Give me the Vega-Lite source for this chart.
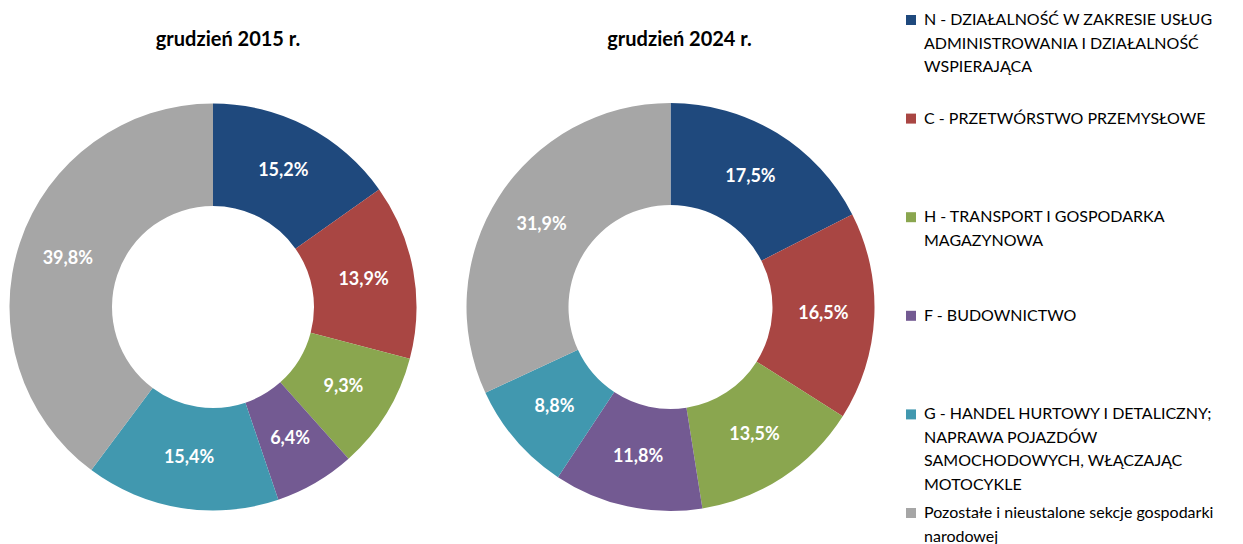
{
  "$schema": "https://vega.github.io/schema/vega-lite/v6.json",
  "padding": {"top": 12, "left": 0, "right": 0, "bottom": 0},
  "background": "white",
  "config": {
    "view": {"stroke": null},
    "font": "Lato",
    "concat": {"spacing": 40},
    "style": {"guide-label": {"lineHeight": 23.5}},
    "locale": {"number": {"decimal": ",", "thousands": " ", "grouping": [3], "currency": ["", " zł"]}}
  },
  "datasets": {
    "d": [
      {"rok": "2015", "lp": 1, "sekcja": "\u00a0N - DZIAŁALNOŚĆ W ZAKRESIE USŁUG|ADMINISTROWANIA I DZIAŁALNOŚĆ|WSPIERAJĄCA", "udzial": 0.152},
      {"rok": "2015", "lp": 2, "sekcja": "\u00a0C - PRZETWÓRSTWO PRZEMYSŁOWE", "udzial": 0.139},
      {"rok": "2015", "lp": 3, "sekcja": "\u00a0H - TRANSPORT I GOSPODARKA|MAGAZYNOWA", "udzial": 0.093},
      {"rok": "2015", "lp": 4, "sekcja": "\u00a0F - BUDOWNICTWO", "udzial": 0.064},
      {"rok": "2015", "lp": 5, "sekcja": "\u00a0G - HANDEL HURTOWY I DETALICZNY;|NAPRAWA POJAZDÓW|SAMOCHODOWYCH, WŁĄCZAJĄC|MOTOCYKLE", "udzial": 0.154},
      {"rok": "2015", "lp": 6, "sekcja": "Pozostałe i nieustalone sekcje gospodarki|narodowej", "udzial": 0.398},
      {"rok": "2024", "lp": 1, "sekcja": "\u00a0N - DZIAŁALNOŚĆ W ZAKRESIE USŁUG|ADMINISTROWANIA I DZIAŁALNOŚĆ|WSPIERAJĄCA", "udzial": 0.175},
      {"rok": "2024", "lp": 2, "sekcja": "\u00a0C - PRZETWÓRSTWO PRZEMYSŁOWE", "udzial": 0.165},
      {"rok": "2024", "lp": 3, "sekcja": "\u00a0H - TRANSPORT I GOSPODARKA|MAGAZYNOWA", "udzial": 0.135},
      {"rok": "2024", "lp": 4, "sekcja": "\u00a0F - BUDOWNICTWO", "udzial": 0.118},
      {"rok": "2024", "lp": 5, "sekcja": "\u00a0G - HANDEL HURTOWY I DETALICZNY;|NAPRAWA POJAZDÓW|SAMOCHODOWYCH, WŁĄCZAJĄC|MOTOCYKLE", "udzial": 0.088},
      {"rok": "2024", "lp": 6, "sekcja": "Pozostałe i nieustalone sekcje gospodarki|narodowej", "udzial": 0.319}
    ]
  },
  "resolve": {"scale": {"color": "shared"}},
  "hconcat": [
    {
      "title": {"text": "grudzień 2015 r.", "fontSize": 20, "fontWeight": "bold", "font": "Lato", "color": "#000000", "offset": 53, "dx": 15, "anchor": "middle"},
      "width": 426,
      "height": 408,
      "data": {"name": "d"},
      "transform": [{"filter": "datum.rok == '2015'"}],
      "encoding": {
        "theta": {"field": "udzial", "type": "quantitative", "stack": true},
        "order": {"field": "lp", "type": "quantitative"}
      },
      "layer": [
        {
          "mark": {"type": "arc", "innerRadius": 101, "outerRadius": 203.5},
          "encoding": {
            "color": {
              "field": "sekcja", "type": "nominal",
              "sort": {"field": "lp"},
              "scale": {"range": ["#1F497D", "#A94643", "#8AA64F", "#735A92", "#4198AF", "#A6A6A6"]},
              "legend": {
                "orient": "none", "legendX": 903, "legendY": -91,
                "title": null, "labelExpr": "split(datum.label, '|')",
                "symbolType": "square", "symbolSize": 100, "symbolStrokeWidth": 0,
                "labelFont": "Lato", "labelFontSize": 16, "labelColor": "#000000",
                "labelLimit": 400, "labelOffset": 5, "labelBaseline": "middle",
                "gridAlign": "all", "rowPadding": 11.6, "padding": 0
              }
            }
          }
        },
        {
          "mark": {"type": "text", "radius": 153, "color": "white", "fontSize": 18, "fontWeight": "bold", "font": "Lato"},
          "encoding": {"text": {"field": "udzial", "type": "quantitative", "format": ".1%"}}
        }
      ]
    },
    {
      "title": {"text": "grudzień 2024 r.", "fontSize": 20, "fontWeight": "bold", "font": "Lato", "color": "#000000", "offset": 53, "dx": 9, "anchor": "middle"},
      "width": 409,
      "height": 408,
      "data": {"name": "d"},
      "transform": [{"filter": "datum.rok == '2024'"}],
      "encoding": {
        "theta": {"field": "udzial", "type": "quantitative", "stack": true},
        "order": {"field": "lp", "type": "quantitative"}
      },
      "layer": [
        {
          "mark": {"type": "arc", "innerRadius": 102, "outerRadius": 204},
          "encoding": {
            "color": {"field": "sekcja", "type": "nominal", "sort": {"field": "lp"}}
          }
        },
        {
          "mark": {"type": "text", "radius": 153, "color": "white", "fontSize": 18, "fontWeight": "bold", "font": "Lato"},
          "encoding": {"text": {"field": "udzial", "type": "quantitative", "format": ".1%"}}
        }
      ]
    }
  ]
}
